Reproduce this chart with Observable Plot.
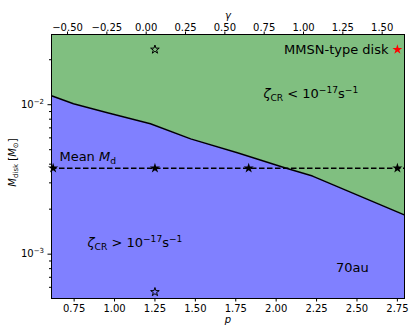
<!DOCTYPE html>
<html><head><meta charset="utf-8">
<script src="https://cdn.jsdelivr.net/npm/d3@7"></script>
<script src="https://cdn.jsdelivr.net/npm/@observablehq/plot@0.6"></script>
<style>
html,body{margin:0;padding:0;background:#fff;}
#chart{position:relative;width:415px;height:335px;font-family:"DejaVu Sans",sans-serif;}
#chart svg{position:absolute;left:0;top:0;}
</style></head><body><div id="chart"></div>
<script>
// boundary between zeta_CR regimes
const boundaryP = [0.61, 0.746, 0.956, 1.222, 1.471, 1.760, 2.058, 2.225, 2.794];
const boundaryM = [0.01148, 0.01016, 0.00883, 0.00745, 0.00591, 0.00477, 0.00377, 0.00333, 0.00183];
const meanMd = 0.00376;
const meanStarP = [0.62, 1.25, 1.83, 2.75];
const hollowStarP = [1.25, 1.25];
const hollowStarM = [0.0234, 0.000558];
const mmsnStarP = [2.75];
const mmsnStarM = [0.0234];
const pTicks = [0.75, 1.0, 1.25, 1.5, 1.75, 2.0, 2.25, 2.5, 2.75];
const gammaTicks = [-0.5, -0.25, 0, 0.25, 0.5, 0.75, 1.0, 1.25, 1.5];
const yMajorTicks = [1e-3, 1e-2];
const yMinorTicks = [6e-4, 7e-4, 8e-4, 9e-4, 2e-3, 3e-3, 4e-3, 5e-3, 6e-3, 7e-3, 8e-3, 9e-3, 2e-2];
const pDomain = [0.61, 2.794];
const gammaDomain = [-0.602, 1.642];
const mDomain = [5.05e-4, 2.95e-2];
const annotP = [2.695, 1.921, 0.833, 2.472, 0.659];
const annotM = [0.0234, 0.01185, 0.00119, 0.000805, 0.00448];
const annotText = ["MMSN-type disk", "*ζ*_{CR} < 10^{−17}s^{−1}", "*ζ*_{CR} > 10^{−17}s^{−1}", "70au", "Mean *M*_{d}"];
const annotAnchor = ["end", "start", "start", "middle", "start"];

const boundary = boundaryP.map((p, i) => ({p, m: boundaryM[i]}));
const annots = annotText.map((t, i) => ({p: annotP[i], m: annotM[i], t, a: annotAnchor[i]}));
const hollow = hollowStarP.map((p, i) => ({p, m: hollowStarM[i]}));
const mmsn = mmsnStarP.map((p, i) => ({p, m: mmsnStarM[i]}));

const W = 415, H = 335, ML = 51, MR = 11, MT = 34, MB = 37;
const fmt2 = d3.format(".2f");
const supFmt = d => `10^{−${Math.round(-Math.log10(d))}}`;

const main = Plot.plot({
  width: W, height: H, marginLeft: ML, marginRight: MR, marginTop: MT, marginBottom: MB,
  style: {fontFamily: "DejaVu Sans", fontSize: "10px", background: "white"},
  x: {domain: pDomain},
  y: {type: "log", domain: mDomain},
  marks: [
    Plot.areaY(boundary, {x: "p", y1: "m", y2: () => mDomain[1], fill: "#80bf80", clip: true}),
    Plot.areaY(boundary, {x: "p", y1: () => mDomain[0], y2: "m", fill: "#8080ff", clip: true}),
    Plot.line(boundary, {x: "p", y: "m", stroke: "black", strokeWidth: 1.5, clip: true}),
    Plot.ruleY([meanMd], {stroke: "black", strokeWidth: 1.5, strokeDasharray: "5.5,2.5"}),
    Plot.dot(meanStarP, {x: d => d, y: () => meanMd, symbol: "star", fill: "black", r: 3.2}),
    Plot.dot(hollow, {x: "p", y: "m", symbol: "star", fill: "none", stroke: "black", strokeWidth: 1, r: 2.7}),
    Plot.dot(mmsn, {x: "p", y: "m", symbol: "star", fill: "red", r: 3.1}),
    Plot.text(annots.filter(d => d.a === "end"), {x: "p", y: "m", text: "t", textAnchor: "end", fontSize: 13, fill: "black"}),
    Plot.text(annots.filter(d => d.a === "start"), {x: "p", y: "m", text: "t", textAnchor: "start", fontSize: 13, fill: "black"}),
    Plot.text(annots.filter(d => d.a === "middle"), {x: "p", y: "m", text: "t", textAnchor: "middle", fontSize: 13, fill: "black"}),
    Plot.frame({stroke: "black", strokeWidth: 1}),
    Plot.axisX({anchor: "bottom", ticks: pTicks, tickFormat: fmt2, tickSize: 3.5, tickPadding: 3, label: null}),
    Plot.axisY({anchor: "left", ticks: yMajorTicks, tickFormat: supFmt, tickSize: 3.5, tickPadding: 4, label: null}),
    Plot.axisY({anchor: "left", ticks: yMinorTicks, tickFormat: () => "", tickSize: 2, label: null}),
    Plot.text(["*p*"], {frameAnchor: "bottom", dy: 24.5, text: d => d, fontSize: 10}),
    Plot.text(["*M*_{disk} [*M*_{⊙}]"], {frameAnchor: "left", dx: -38.5, dy: -4, rotate: -90, textAnchor: "middle", text: d => d, fontSize: 10})
  ]
});

const topAxis = Plot.plot({
  width: W, height: H, marginLeft: ML, marginRight: MR, marginTop: MT, marginBottom: MB,
  style: {fontFamily: "DejaVu Sans", fontSize: "10px", background: "transparent"},
  x: {domain: gammaDomain},
  marks: [
    Plot.axisX({anchor: "top", ticks: gammaTicks, tickFormat: fmt2, tickSize: 3.5, tickPadding: 0, label: null}),
    Plot.text(["*γ*"], {frameAnchor: "top", dy: -22.5, text: d => d, fontSize: 10})
  ]
});

const chart = document.getElementById("chart");
chart.appendChild(main);
chart.appendChild(topAxis);

function richify(svg) {
  svg.querySelectorAll("text").forEach(t => {
    const s = t.textContent;
    if (!/[\*_\^]/.test(s)) return;
    const fs = parseFloat(getComputedStyle(t).fontSize) || 10;
    while (t.firstChild) t.removeChild(t.firstChild);
    const parts = s.split(/(\*[^*]+\*|_\{[^}]*\}|\^\{[^}]*\})/).filter(x => x);
    for (const part of parts) {
      const ts = document.createElementNS("http://www.w3.org/2000/svg", "tspan");
      if (part.startsWith("*")) {
        ts.textContent = part.slice(1, -1);
        ts.setAttribute("font-style", "italic");
      } else if (part.startsWith("_{")) {
        ts.textContent = part.slice(2, -1);
        ts.setAttribute("font-size", 0.7 * fs);
        ts.setAttribute("baseline-shift", -0.22 * fs);
      } else if (part.startsWith("^{")) {
        ts.textContent = part.slice(2, -1);
        ts.setAttribute("font-size", 0.7 * fs);
        ts.setAttribute("baseline-shift", 0.4 * fs);
      } else {
        ts.textContent = part;
      }
      t.appendChild(ts);
    }
  });
}
richify(main);
richify(topAxis);
</script>
</body></html>
